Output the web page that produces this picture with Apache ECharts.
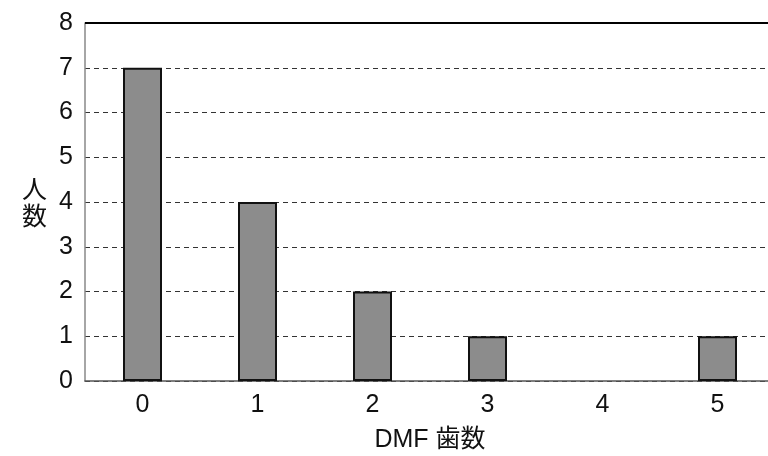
<!DOCTYPE html>
<html><head><meta charset="utf-8">
<script src="https://cdn.jsdelivr.net/npm/echarts@6/dist/echarts.min.js"></script>
<style>html,body{margin:0;padding:0;background:#fff}#c{width:768px;height:456px}</style>
</head><body><div id="c"></div>
<script>
const categories = ['0','1','2','3','4','5'];
const counts = [7,4,2,1,0,1];
const yTicks = [0,1,2,3,4,5,6,7,8];
const chart = echarts.init(document.getElementById('c'));
chart.setOption({
  animation:false,
  grid:{left:85,right:-7,top:23,bottom:75,show:false,outerBoundsMode:'none',containLabel:false},
  xAxis:{type:'category',data:categories,
    name:'DMF 歯数',nameLocation:'middle',nameGap:47,
    nameTextStyle:{fontSize:25,color:'#111',fontFamily:'Liberation Sans, Noto Sans CJK JP'},
    axisLine:{lineStyle:{color:'#555',width:1.5}},axisTick:{show:false},
    axisLabel:{fontSize:25,color:'#111',margin:12,fontFamily:'Liberation Sans'}},
  yAxis:{type:'value',min:0,max:8,interval:1,
    name:'人\n数',nameLocation:'middle',nameGap:38,nameRotate:0,
    nameTextStyle:{fontSize:25,color:'#111',lineHeight:27,fontFamily:'Noto Sans CJK JP'},
    axisLine:{show:true,lineStyle:{color:'#888',width:1.5}},axisTick:{show:false},
    axisLabel:{fontSize:25,color:'#111',margin:12,fontFamily:'Liberation Sans'},
    splitLine:{lineStyle:{color:'#333',type:[5,4],width:1.2}}},
  series:[{type:'bar',barWidth:39,
    data:counts.map(v => v === 0 ? {value:v,itemStyle:{borderWidth:0}} : v),
    itemStyle:{color:'#8c8c8c',borderColor:'#111',borderWidth:2}},
    {type:'line',data:[],markLine:{silent:true,symbol:'none',label:{show:false},
      lineStyle:{color:'#000',type:'solid',width:2},data:[{yAxis:8}]}}]
});
</script></body></html>
